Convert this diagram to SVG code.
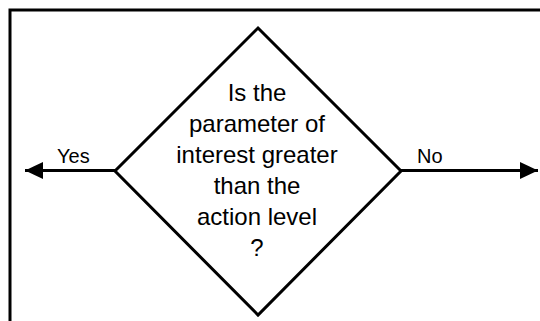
<svg xmlns="http://www.w3.org/2000/svg" width="540" height="321" viewBox="0 0 540 321">
<style>
.ln{fill:none;stroke:#000;stroke-width:3}
.t{font-family:"Liberation Sans",Arial,sans-serif;fill:#000}
.q{font-size:24px;text-anchor:middle}
.lb{font-size:20px}
</style>
<defs>
<marker id="ah" markerWidth="18" markerHeight="17" refX="18" refY="8.5" orient="auto" markerUnits="userSpaceOnUse">
<path d="M0,0 L18,8.5 L0,17 Z" fill="#000"/>
</marker>
</defs>
<rect width="540" height="321" fill="#fff"/>
<path id="frame" class="ln" d="M10,321 V10 H540" stroke-width="2.5"/>
<g id="connectors">
<line class="ln" x1="115" y1="170.5" x2="25" y2="170.5" marker-end="url(#ah)"/>
<line class="ln" x1="401" y1="170.5" x2="538" y2="170.5" marker-end="url(#ah)"/>
<text class="t lb" x="57" y="163">Yes</text>
<text class="t lb" x="417" y="163">No</text>
</g>
<g id="decision">
<path class="ln" d="M258,28 L401,171 L258,315 L115,171 Z"/>
<text class="t q" x="257" y="101">Is the</text>
<text class="t q" x="257" y="132">parameter of</text>
<text class="t q" x="257" y="163">interest greater</text>
<text class="t q" x="257" y="194">than the</text>
<text class="t q" x="257" y="225">action level</text>
<text class="t q" x="257" y="256">?</text>
</g>
</svg>
